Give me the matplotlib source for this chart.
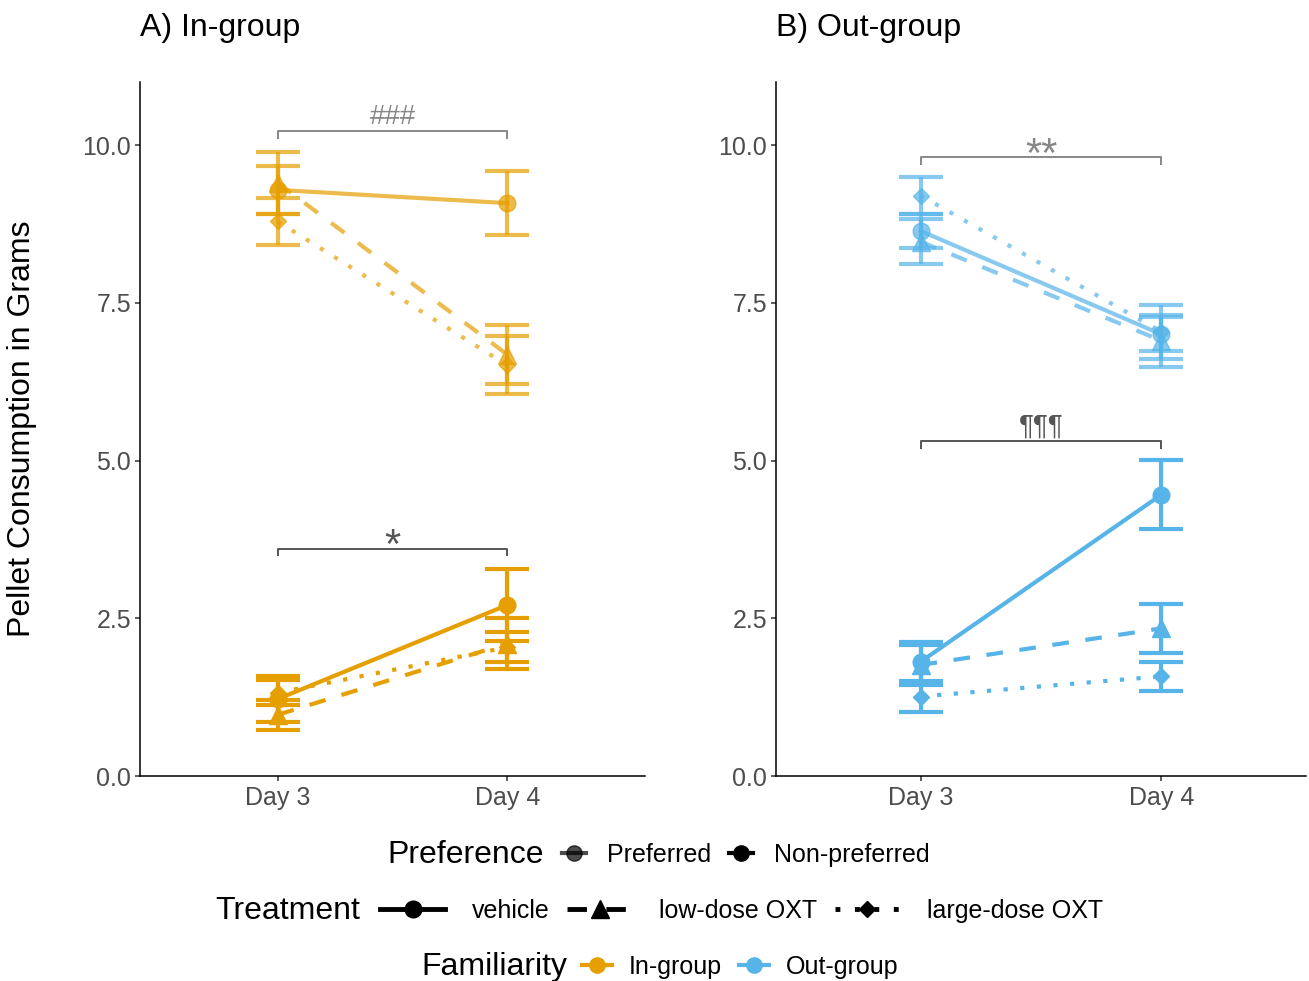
import matplotlib
matplotlib.use('Agg')
import matplotlib.pyplot as plt
from matplotlib.lines import Line2D

plt.rcParams['font.family'] = ['Liberation Sans', 'DejaVu Sans']

# data (means and standard errors)
days = ['Day 3', 'Day 4']
treatments = ['vehicle', 'low-dose OXT', 'large-dose OXT']

in_pref_mean = [[9.29, 9.08], [9.40, 6.68], [8.79, 6.51]]
in_pref_se = [[0.38, 0.51], [0.49, 0.47], [0.37, 0.46]]
in_nonpref_mean = [[1.22, 2.71], [0.97, 2.10], [1.32, 2.04]]
in_nonpref_se = [[0.36, 0.57], [0.24, 0.40], [0.20, 0.24]]

out_pref_mean = [[8.64, 7.00], [8.47, 6.90], [9.20, 7.04]]
out_pref_se = [[0.27, 0.27], [0.36, 0.41], [0.30, 0.43]]
out_nonpref_mean = [[1.81, 4.46], [1.76, 2.34], [1.26, 1.58]]
out_nonpref_se = [[0.32, 0.55], [0.32, 0.39], [0.25, 0.23]]

# significance brackets: (label, bracket height, is preferred)
in_sig = [('###', 10.22, True), ('*', 3.60, False)]
out_sig = [('**', 9.81, True), ('¶¶¶', 5.31, False)]

col_in = '#E69F00'
col_out = '#56B4E9'
pref_alpha = 0.7
styles = [('-', 'o', 12), ((0, (4, 4)), '^', 13), ((0, (1, 3)), 'D', 8.5)]

fig = plt.figure(figsize=(13.09, 9.81), dpi=100)
ax1 = fig.add_axes([140 / 1309, 1 - 776 / 981, 505 / 1309, 694 / 981])
ax2 = fig.add_axes([776 / 1309, 1 - 776 / 981, 530 / 1309, 694 / 981])


def draw_panel(ax, color, groups, sigs):
    x = list(range(len(days)))
    for means, ses, alpha in groups:
        for i, (ls, mk, ms) in enumerate(styles):
            ax.errorbar(x, means[i], yerr=ses[i], fmt='none', ecolor=color,
                        alpha=alpha, elinewidth=3, capsize=16, capthick=3)
            ax.plot(x, means[i], color=color, alpha=alpha, lw=3, linestyle=ls,
                    marker=mk, ms=ms, mec=color, mfc=color)
    for label, y, pref in sigs:
        a = pref_alpha if pref else 1.0
        ax.plot([0, 0, 1, 1], [y - 0.12, y, y, y - 0.12], color='#555555',
                alpha=a, lw=1.4, solid_capstyle='butt')
        if '*' in label:
            ax.text(0.5, y - 0.15, label, ha='center', va='baseline',
                    fontsize=30, color='#555555', alpha=a)
        else:
            ax.text(0.5, y + 0.11, label, ha='center', va='baseline',
                    fontsize=20, color='#555555', alpha=a)
    ax.set_xlim(-0.6, 1.6)
    ax.set_ylim(0, 11)
    ax.set_xticks(x)
    ax.set_xticklabels(days)
    ax.set_yticks([0, 2.5, 5, 7.5, 10])
    ax.set_yticklabels(['0.0', '2.5', '5.0', '7.5', '10.0'])
    for s in ['top', 'right']:
        ax.spines[s].set_visible(False)
    for s in ['left', 'bottom']:
        ax.spines[s].set_linewidth(1.1)
        ax.spines[s].set_color('black')
    ax.tick_params(labelsize=18, labelcolor='#4D4D4D', color='#333333',
                   length=3.5, width=1.1)
    ax.tick_params(axis='y', pad=3)
    ax.tick_params(axis='x', pad=4)


draw_panel(ax1, col_in,
           [(in_pref_mean, in_pref_se, pref_alpha), (in_nonpref_mean, in_nonpref_se, 1.0)],
           in_sig)
draw_panel(ax2, col_out,
           [(out_pref_mean, out_pref_se, pref_alpha), (out_nonpref_mean, out_nonpref_se, 1.0)],
           out_sig)

fig.text(140 / 1309, 1 - 28 / 981, 'A) In-group', fontsize=23, va='center', ha='left')
fig.text(776 / 1309, 1 - 28 / 981, 'B) Out-group', fontsize=23, va='center', ha='left')
fig.text(22 / 1309, 1 - 429 / 981, 'Pellet Consumption in Grams', fontsize=23,
         rotation=90, va='center', ha='center')

# legends
pref_handles = [Line2D([], [], color='black', alpha=pref_alpha, lw=3, marker='o', ms=11),
                Line2D([], [], color='black', lw=3, marker='o', ms=11)]
treat_handles = [Line2D([], [], color='black', lw=3.5, linestyle=ls, marker=mk, ms=ms)
                 for ls, mk, ms in styles]
fam_handles = [Line2D([], [], color=col_in, lw=3, marker='o', ms=11),
               Line2D([], [], color=col_out, lw=3, marker='o', ms=11)]

rows = [
    ('Preference', 387, 855, 562, pref_handles, ['Preferred', 'Non-preferred'], 0.95, 0.84, 0.72),
    ('Treatment', 215, 911, 380, treat_handles, treatments, 2.6, 1.08, 0.7),
    ('Familiarity', 421, 967, 582, fam_handles, ['In-group', 'Out-group'], 1.2, 0.68, 0.68),
]
for title, tx, ty, lx, handles, labels, hl, htp, cs in rows:
    fig.text(tx / 1309, 1 - ty / 981, title, fontsize=23, va='center', ha='left')
    fig.legend(handles, labels, loc='center left', bbox_to_anchor=(lx / 1309, 1 - ty / 981),
               ncol=len(labels), frameon=False, fontsize=18, borderpad=0, borderaxespad=0,
               handlelength=hl, handletextpad=htp, columnspacing=cs, numpoints=1)

fig.savefig('out.png', dpi=100)
